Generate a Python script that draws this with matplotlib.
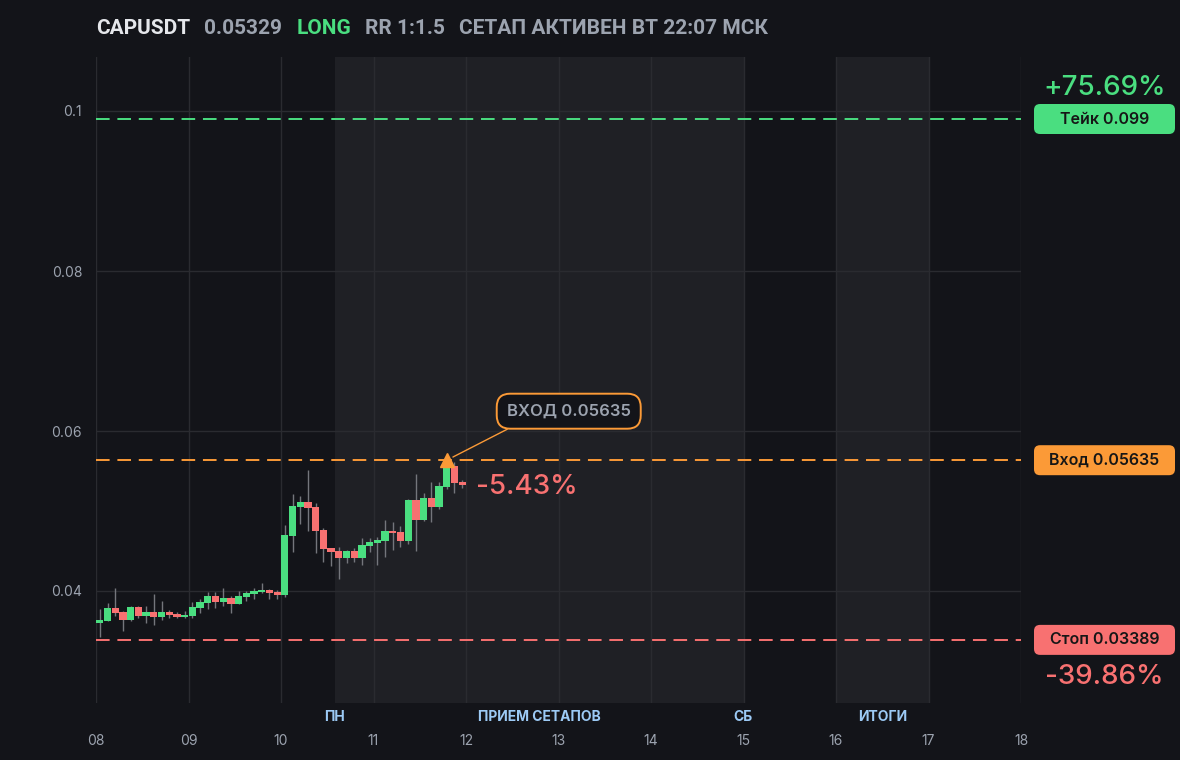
import matplotlib
matplotlib.use("Agg")
import matplotlib.pyplot as plt
from matplotlib.patches import FancyBboxPatch, Rectangle
from matplotlib.transforms import IdentityTransform
import numpy as np

plt.rcParams['font.family'] = ['Inter', 'DejaVu Sans']

# --- данные: свечи 2ч, начиная с 08 числа ---
start_day = 8.0
candle_step = 2 / 24  # 2 часа

opens = [0.0360, 0.0363, 0.0379, 0.0374, 0.0364, 0.0380, 0.0369, 0.0374, 0.0367, 0.0374, 0.0371, 0.0367,
         0.0369, 0.0379, 0.0385, 0.0394, 0.0386, 0.0391, 0.0384, 0.0392, 0.0396, 0.0399, 0.0401, 0.0399,
         0.0395, 0.0469, 0.0505, 0.0511, 0.0505, 0.0476, 0.0454, 0.0450, 0.0441, 0.0450, 0.0441, 0.0456,
         0.0460, 0.0462, 0.0475, 0.0474, 0.0462, 0.0514, 0.0489, 0.0516, 0.0505, 0.0530, 0.0556, 0.0536]
highs = [0.0378, 0.0385, 0.0404, 0.0375, 0.0381, 0.0381, 0.0381, 0.0396, 0.0388, 0.0376, 0.0374, 0.0375,
         0.0386, 0.0390, 0.0399, 0.0399, 0.0404, 0.0394, 0.0400, 0.0400, 0.0404, 0.0410, 0.0403, 0.0401,
         0.0483, 0.0521, 0.0519, 0.0551, 0.0510, 0.0479, 0.0454, 0.0455, 0.0451, 0.0454, 0.0466, 0.0466,
         0.0468, 0.0489, 0.0486, 0.0481, 0.0515, 0.0546, 0.0523, 0.0536, 0.0536, 0.0556, 0.0561, 0.0539]
lows = [0.0343, 0.0362, 0.0369, 0.0350, 0.0363, 0.0366, 0.0360, 0.0357, 0.0364, 0.0366, 0.0366, 0.0366,
        0.0366, 0.0373, 0.0378, 0.0379, 0.0381, 0.0373, 0.0384, 0.0387, 0.0390, 0.0398, 0.0390, 0.0390,
        0.0393, 0.0449, 0.0484, 0.0475, 0.0448, 0.0436, 0.0431, 0.0415, 0.0435, 0.0436, 0.0433, 0.0449,
        0.0433, 0.0443, 0.0451, 0.0455, 0.0459, 0.0450, 0.0488, 0.0486, 0.0503, 0.0528, 0.0523, 0.0529]
closes = [0.03638, 0.0379, 0.0373, 0.0364, 0.0380, 0.0369, 0.0374, 0.0367, 0.0374, 0.0370, 0.0367, 0.0370,
          0.0380, 0.0386, 0.0394, 0.0386, 0.0391, 0.0384, 0.0394, 0.0398, 0.0400, 0.0401, 0.0397, 0.0395,
          0.0470, 0.0506, 0.0511, 0.0504, 0.0475, 0.0453, 0.0449, 0.0441, 0.0450, 0.0441, 0.0458, 0.0461,
          0.0464, 0.0475, 0.0473, 0.0462, 0.0514, 0.0489, 0.0516, 0.0505, 0.0531, 0.0554, 0.0535, 0.05329]

symbol = "CAPUSDT"
side = "LONG"
rr_text = "RR 1:1.5"
status_text = "СЕТАП АКТИВЕН ВТ 22:07 МСК"
entry = 0.05635
take = 0.099
stop = 0.03389
entry_candle = 45  # индекс свечи входа

zones = [(10 + 14 / 24, 15.0), (16.0, 17.0)]
zone_labels = [("ПН", 10 + 14 / 24), ("ПРИЕМ СЕТАПОВ", 12.79), ("СБ", 15.0), ("ИТОГИ", 16.5)]
day_ticks = list(range(8, 19))
y_ticks = [0.04, 0.06, 0.08, 0.1]

# --- цвета ---
BG = "#131419"
ZONE = "#1f2025"
GRID = "#2a2b30"
GREEN = "#4ade80"
RED = "#f87171"
ORANGE = "#fb9a37"
GRAY = "#9ca3af"
WICK = "#74767c"
BLUE = "#9ccaf5"

fig = plt.figure(figsize=(11.8, 7.6), dpi=100, facecolor=BG)
W, H = 1180, 760
ax = fig.add_axes([96 / W, 1 - 703 / H, (1021 - 96) / W, (703 - 57) / H])
ax.set_facecolor(BG)
ax.set_xlim(8, 18)
ax.set_ylim(0.026, 0.10675)

for z0, z1 in zones:
    ax.axvspan(z0, z1, color=ZONE, zorder=0, lw=0)

for d in day_ticks:
    ax.axvline(d, color=GRID, lw=1, zorder=1)
for yv in y_ticks:
    ax.axhline(yv, color=GRID, lw=1, zorder=1)

# свечи
xs = start_day + (np.arange(len(opens)) + 0.5) * candle_step
body_w = 0.078
for x, o, h, l, c in zip(xs, opens, highs, lows, closes):
    col = GREEN if c >= o else RED
    ax.vlines(x, l, h, color=WICK, lw=1, zorder=2)
    bottom = min(o, c)
    height = max(abs(c - o), 0.00006)
    ax.add_patch(Rectangle((x - body_w / 2, bottom), body_w, height, facecolor=col, edgecolor='none', zorder=3))

# уровни
dash = (0, (7, 4))
ax.axhline(take, color=GREEN, lw=1.4, ls=dash, zorder=2)
ax.axhline(entry, color=ORANGE, lw=1.4, ls=dash, zorder=2)
ax.axhline(stop, color=RED, lw=1.4, ls=dash, zorder=2)

# маркер входа и подпись
ex = xs[entry_candle]
ax.plot(ex, entry, marker='^', ms=10, color=ORANGE, zorder=5, lw=0)
ax.annotate(f"ВХОД {entry}", xy=(ex, entry), xytext=(122, 49), textcoords='offset pixels',
            ha='center', va='center', fontsize=12, color=GRAY, zorder=6, fontweight='semibold',
            bbox=dict(boxstyle="round,pad=0.6,rounding_size=0.8", fc=BG, ec=ORANGE, lw=1.4),
            arrowprops=dict(arrowstyle='-', color=ORANGE, lw=1, relpos=(0.17, 0), shrinkA=0, shrinkB=5))

last = closes[-1]
cur_pct = (last - entry) / entry * 100
ax.annotate(f"{cur_pct:.2f}%", xy=(xs[-1], last), xytext=(14, -2), textcoords='offset pixels',
            ha='left', va='center', fontsize=20, color=RED, fontweight='medium')

# оси
for s in ax.spines.values():
    s.set_visible(False)
ax.set_yticks(y_ticks)
ax.set_yticklabels([f"{v:g}" for v in y_ticks])
ax.set_xticks(day_ticks)
ax.set_xticklabels([f"{d:02d}" for d in day_ticks])
ax.tick_params(axis='both', length=0, colors=GRAY, labelsize=10)
ax.tick_params(axis='y', pad=10)
ax.tick_params(axis='x', pad=22)

for name, xv in zone_labels:
    ax.text(xv, -0.022, name, transform=ax.get_xaxis_transform(), ha='center', va='center',
            fontsize=10, color=BLUE, fontweight='bold')

# правые бейджи
def badge(price, label, color):
    ypix = ax.transData.transform((8, price))[1]
    fig.add_artist(FancyBboxPatch((1034, ypix - 15), 141, 30, boxstyle="round,pad=0,rounding_size=6",
                                  fc=color, ec='none', transform=IdentityTransform()))
    fig.text(1104.5 / W, ypix / H, label, ha='center', va='center', fontsize=11.5,
             color="#161616", fontweight='semibold')
    return ypix

take_pct = (take - entry) / entry * 100
stop_pct = (stop - entry) / entry * 100
yt = badge(take, f"Тейк {take}", GREEN)
badge(entry, f"Вход {entry}", ORANGE)
ys = badge(stop, f"Стоп {stop}", RED)
fig.text(1105 / W, (yt + 31) / H, f"+{take_pct:.2f}%", ha='center', va='center', fontsize=20,
         color=GREEN, fontweight='medium')
fig.text(1104 / W, (ys - 37) / H, f"{stop_pct:.2f}%", ha='center', va='center', fontsize=20,
         color=RED, fontweight='medium')

# заголовок — подряд, с одинаковыми промежутками
header = [(symbol, "#e5e7eb"), (f"{last}", GRAY), (side, GREEN), (rr_text, GRAY), (status_text, GRAY)]
renderer = fig.canvas.get_renderer()
xpx = 96
for txt, col in header:
    t = fig.text(xpx / W, 1 - 28 / H, txt, ha='left', va='center', fontsize=15, color=col,
                 fontweight='bold', family=['Roboto', 'DejaVu Sans'])
    xpx += t.get_window_extent(renderer).width + 14

fig.savefig("out.png", dpi=100, facecolor=BG)
